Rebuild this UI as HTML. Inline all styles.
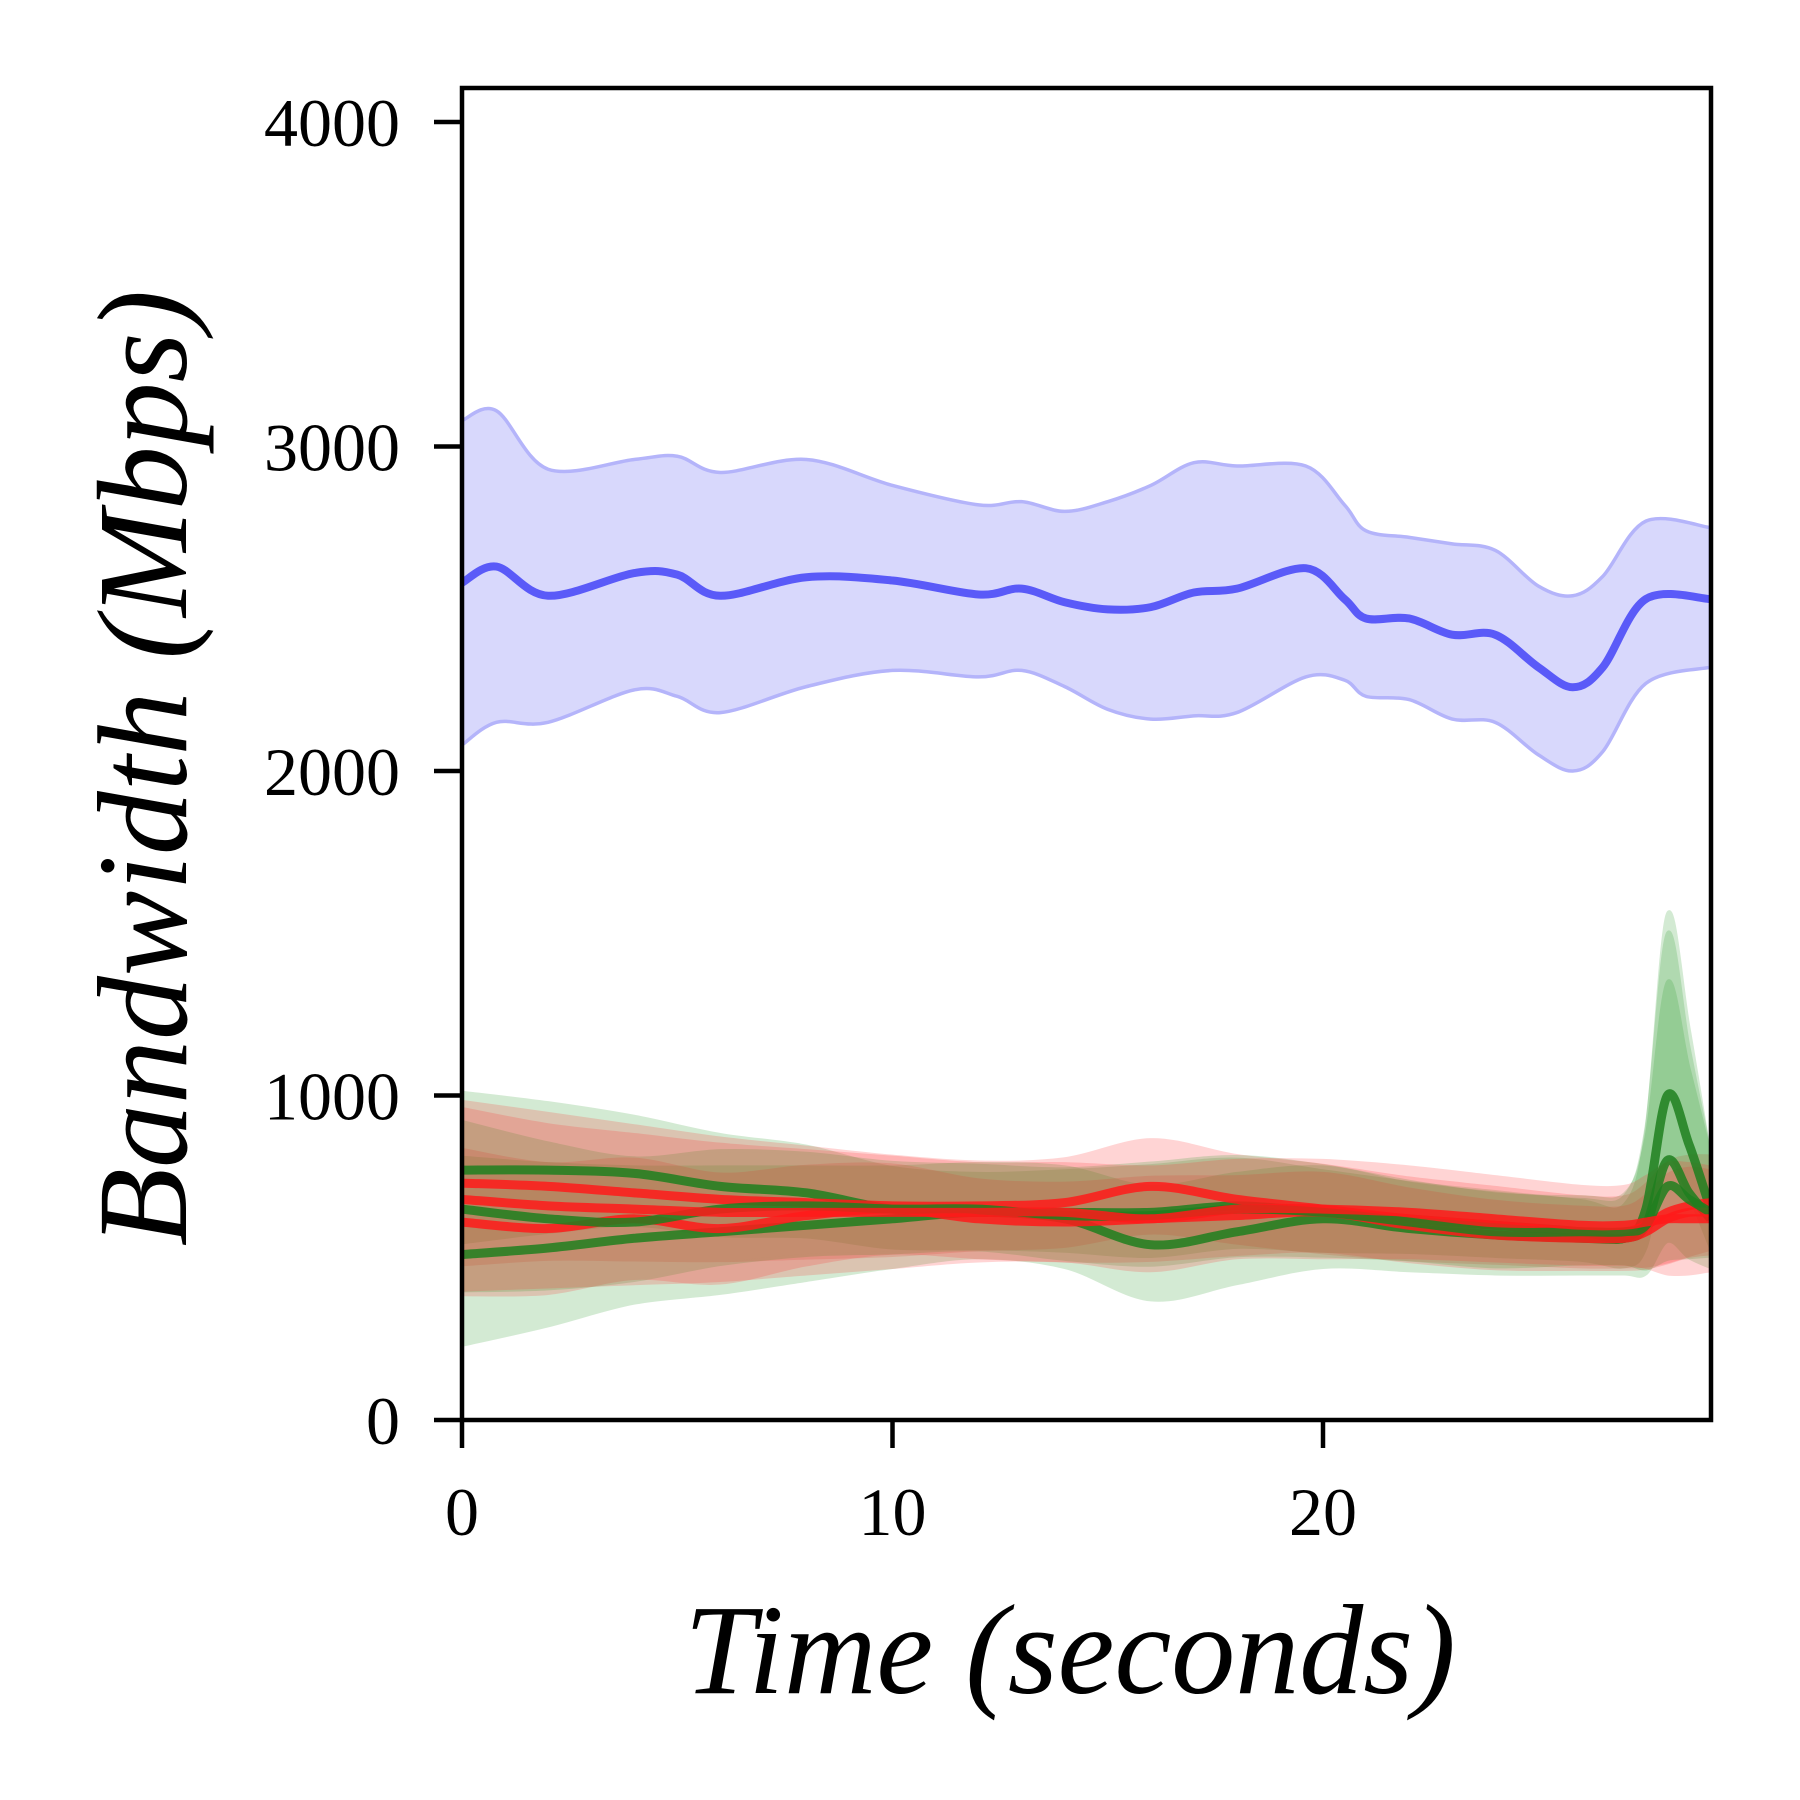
<!DOCTYPE html>
<html><head><meta charset="utf-8"><style>
html,body{margin:0;padding:0;background:#fff}
svg{display:block}
text{font-family:"Liberation Serif",serif;fill:#000}
</style></head><body>
<svg id="chart" width="1800" height="1800" viewBox="0 0 1800 1800" xmlns="http://www.w3.org/2000/svg">
<defs><clipPath id="clip"><rect x="462" y="88" width="1249" height="1332"/></clipPath></defs>
<g id="plot" clip-path="url(#clip)"></g>
<rect x="462" y="88" width="1249" height="1332" fill="none" stroke="#000" stroke-width="4.5"/>
<g id="axes"></g>
<text x="1070" y="1693" font-size="128" font-style="italic" text-anchor="middle">Time (seconds)</text>
<text transform="translate(186,768) rotate(-90)" font-size="128" font-style="italic" text-anchor="middle">Bandwidth (Mbps)</text>
</svg>
<script>
const times=[0,2,4,6,8,10,12,14,16,18,20,22,24,26,27,27.5,28,28.5,29];
const blueT=[0,0.8,2,4,5,6,8,10,12,13,14,15,16,17,18,19.6,20.5,21,22,23,24,25,25.8,26.5,27.5,29];
const blueMean=[2580,2630,2540,2610,2605,2540,2597,2587,2544,2562,2520,2498,2505,2550,2562,2625,2530,2470,2470,2420,2420,2320,2258,2320,2530,2530];
const blueUpper=[3080,3110,2930,2960,2970,2920,2960,2880,2820,2830,2800,2830,2880,2950,2940,2940,2820,2740,2720,2700,2680,2570,2540,2600,2770,2750];
const blueLower=[2080,2150,2150,2250,2230,2180,2260,2310,2290,2310,2260,2190,2160,2170,2180,2290,2280,2230,2220,2160,2150,2050,2000,2060,2270,2320];
const green1=[770,770,760,720,700,650,640,640,640,660,640,620,600,580,560,650,1000,850,650];
const green2=[510,530,560,580,600,620,640,620,540,580,620,590,570,560,560,600,800,700,620];
const green3=[650,620,610,650,660,650,650,630,630,650,640,610,580,580,580,600,720,680,640];
const red1=[730,720,700,680,670,660,660,670,720,680,650,620,600,580,580,600,640,660,670];
const red2=[610,590,620,590,630,650,620,610,620,630,640,600,570,560,560,580,620,640,640];
const red3=[680,660,650,640,640,640,640,640,620,650,650,640,620,600,600,610,620,620,620];
const greenUpSpread=[300,260,220,200,180,160,150,160,180,180,160,140,130,120,130,300,700,450,200];
const greenLowSpread=[280,240,200,190,170,150,140,150,170,160,150,130,120,110,110,150,250,200,150];
const redSpread=[280,250,230,210,190,170,150,150,160,150,150,140,130,120,120,140,170,170,160];
const xTicks=[0,10,20];
const yTicks=[0,1000,2000,3000,4000];

const X=t=>462+t*43.05;
const Y=v=>1420-v*0.3245;
const NS="http://www.w3.org/2000/svg";
function smooth(ts,vs){
  const p=ts.map((t,i)=>[X(t),Y(vs[i])]);
  let d="M"+p[0][0]+","+p[0][1];
  for(let i=0;i<p.length-1;i++){
    const p0=p[Math.max(0,i-1)],p1=p[i],p2=p[i+1],p3=p[Math.min(p.length-1,i+2)];
    const c1=[p1[0]+(p2[0]-p0[0])/6,p1[1]+(p2[1]-p0[1])/6];
    const c2=[p2[0]-(p3[0]-p1[0])/6,p2[1]-(p3[1]-p1[1])/6];
    d+=" C"+c1+" "+c2+" "+p2;
  }
  return d;
}
function band(ts,lo,hi){
  const up=smooth(ts,hi);
  const rt=ts.slice().reverse(),rl=lo.slice().reverse();
  const dn=smooth(rt,rl).replace(/^M/,"L");
  return up+" "+dn+" Z";
}
const plot=document.getElementById("plot");
function addPath(d,fill,stroke,sw,op,name){
  const e=document.createElementNS(NS,"path");
  e.setAttribute("d",d);e.setAttribute("fill",fill);
  e.setAttribute("stroke",stroke);e.setAttribute("stroke-width",sw);
  e.setAttribute("opacity",op);
  
  
  plot.appendChild(e);
}
addPath(band(blueT,blueLower,blueUpper),"#d8d8fc","#b4b4fa",3.5,1,"blue-band");
addPath(smooth(blueT,blueMean),"none","#5a5af8",8,1,"blue-line");
const series=[[green1,greenUpSpread,greenLowSpread,"#2a9a2a"],[red1,redSpread,redSpread,"#ff3030"],[green2,greenUpSpread,greenLowSpread,"#2a9a2a"],[red2,redSpread,redSpread,"#ff3030"],[green3,greenUpSpread,greenLowSpread,"#2a9a2a"],[red3,redSpread,redSpread,"#ff3030"]];
series.forEach((s,k)=>{
  const f=0.8+0.1*(k%3);
  const lo=s[0].map((v,i)=>v-s[2][i]*f);
  const hi=s[0].map((v,i)=>v+s[1][i]*f);
  addPath(band(times,lo,hi),s[3],s[3],3,0.2,"band-"+k);
});
series.forEach((s,k)=>{
  addPath(smooth(times,s[0]),"none",s[3]=="#2a9a2a"?"#1f7f1f":"#ff1a1a",9,0.85,"line-"+k);
});
const axes=document.getElementById("axes");
xTicks.forEach(t=>{
  const l=document.createElementNS(NS,"line");
  l.setAttribute("x1",X(t));l.setAttribute("x2",X(t));l.setAttribute("y1",1420);l.setAttribute("y2",1448);
  l.setAttribute("stroke","#000");l.setAttribute("stroke-width",4.5);
  
  
  axes.appendChild(l);
  const tx=document.createElementNS(NS,"text");
  tx.setAttribute("x",X(t));tx.setAttribute("y",1535);tx.setAttribute("font-size",68);tx.setAttribute("text-anchor","middle");
  tx.textContent=t;
  
  
  axes.appendChild(tx);
});
yTicks.forEach(v=>{
  const l=document.createElementNS(NS,"line");
  l.setAttribute("x1",434);l.setAttribute("x2",462);l.setAttribute("y1",Y(v));l.setAttribute("y2",Y(v));
  l.setAttribute("stroke","#000");l.setAttribute("stroke-width",4.5);
  
  
  axes.appendChild(l);
  const tx=document.createElementNS(NS,"text");
  tx.setAttribute("x",400);tx.setAttribute("y",Y(v)+24);tx.setAttribute("font-size",68);tx.setAttribute("text-anchor","end");
  tx.textContent=v;
  
  
  axes.appendChild(tx);
});
</script>
</body></html>
